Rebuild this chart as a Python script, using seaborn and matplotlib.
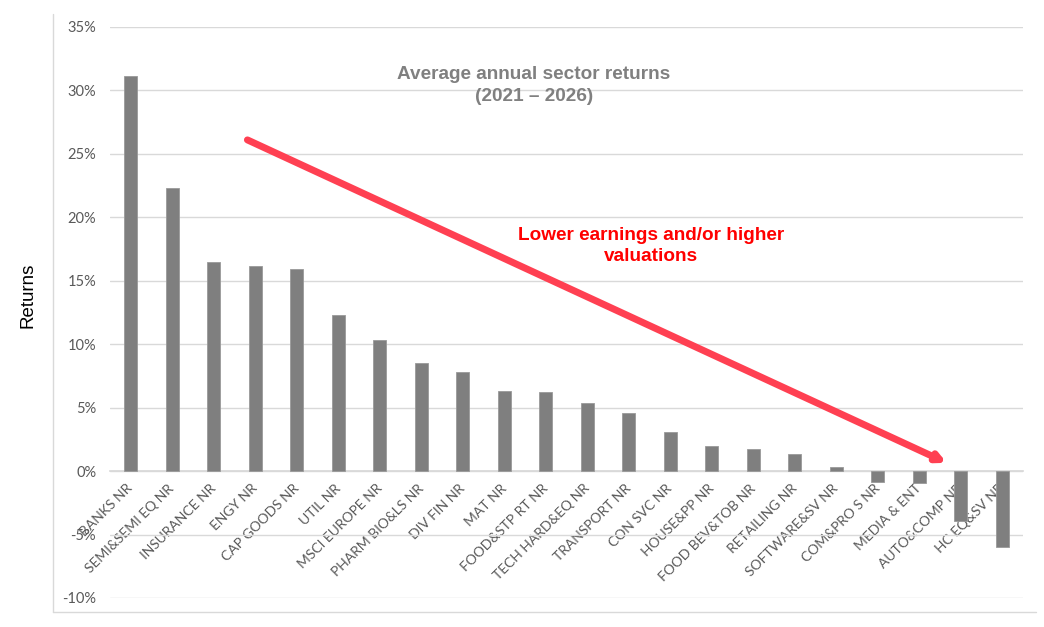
import pandas as pd
import matplotlib.pyplot as plt
from matplotlib.lines import Line2D
from matplotlib.ticker import FuncFormatter
import seaborn as sns

# Sector data (average annual return, %)
sectors = ['BANKS NR', 'SEMI&SEMI EQ NR', 'INSURANCE NR', 'ENGY NR', 'CAP GOODS NR',
           'UTIL NR', 'MSCI EUROPE NR', 'PHARM BIO&LS NR', 'DIV FIN NR', 'MAT NR',
           'FOOD&STP RT NR', 'TECH HARD&EQ NR', 'TRANSPORT NR', 'CON SVC NR',
           'HOUSE&PP NR', 'FOOD BEV&TOB NR', 'RETAILING NR', 'SOFTWARE&SV NR',
           'COM&PRO S NR', 'MEDIA & ENT', 'AUTO&COMP NR', 'HC EQ&SV NR']
returns = [31.1, 22.3, 16.5, 16.2, 15.95, 12.3, 10.3, 8.5, 7.8, 6.3,
           6.2, 5.4, 4.6, 3.1, 1.95, 1.75, 1.35, 0.3, -0.85, -0.95, -3.9, -6.0]
y_ticks = [-10, -5, 0, 5, 10, 15, 20, 25, 30, 35]

df = pd.DataFrame({'sector': sectors, 'ret': returns})

sns.set_theme(style='white')
plt.rcParams['font.family'] = ['Lato', 'DejaVu Sans']

fig = plt.figure(figsize=(10.44, 6.27), dpi=100)
ax = fig.add_axes([0.1054, 0.0463, 0.8745, 0.9107])

sns.barplot(data=df, x='sector', y='ret', color='#7f7f7f', saturation=1,
            width=0.31, edgecolor='#9a9a9a', linewidth=0.6, ax=ax, zorder=3)

ax.set_xlim(-0.5, len(sectors) - 0.5)
ax.set_ylim(-10, 35)
ax.set_yticks(y_ticks)
ax.yaxis.set_major_formatter(FuncFormatter(lambda v, p: f'{v:.0f}%'))
ax.grid(axis='y', color='#d9d9d9', lw=1, zorder=0)
ax.set_xlabel('')
ax.set_ylabel('')

for s in ['top', 'right', 'left']:
    ax.spines[s].set_visible(False)
ax.spines['bottom'].set_position(('data', 0))
ax.spines['bottom'].set_color('#d9d9d9')
ax.tick_params(axis='both', length=0, colors='#595959', labelsize=10.5)
ax.tick_params(axis='y', pad=10)
ax.tick_params(axis='x', pad=11)
for lbl in ax.get_xticklabels():
    lbl.set_rotation(45)
    lbl.set_ha('right')
    lbl.set_va('center')
    lbl.set_rotation_mode('anchor')
    lbl.set_fontsize(10)

# red trend arrow
ax.annotate('', xy=(19.66, 0.65), xytext=(2.81, 26.1),
            arrowprops=dict(arrowstyle='-|>', color='#ff4052', lw=5,
                            mutation_scale=12, shrinkA=0, shrinkB=0), zorder=5)

fig.text(0.5115, 0.864, 'Average annual sector returns\n(2021 \u2013 2026)',
         ha='center', va='center', fontsize=13.7, fontweight='bold',
         color='#808080', family='Liberation Sans', linespacing=1.4)
fig.text(0.6236, 0.6077, 'Lower earnings and/or higher\nvaluations',
         ha='center', va='center', fontsize=13.7, fontweight='bold',
         color='#ff0000', family='Liberation Sans', linespacing=1.3)
fig.text(0.027, 1 - 295 / 627, 'Returns', rotation=90, ha='center', va='center',
         fontsize=13.5, color='black', family='Liberation Sans')

# chart area border lines
fig.add_artist(Line2D([0.0508, 0.0508], [0.978, 0.0239], color='#d9d9d9', lw=1))
fig.add_artist(Line2D([0.0508, 0.992], [0.0239, 0.0239], color='#d9d9d9', lw=1))

fig.savefig('out.png', dpi=100)
